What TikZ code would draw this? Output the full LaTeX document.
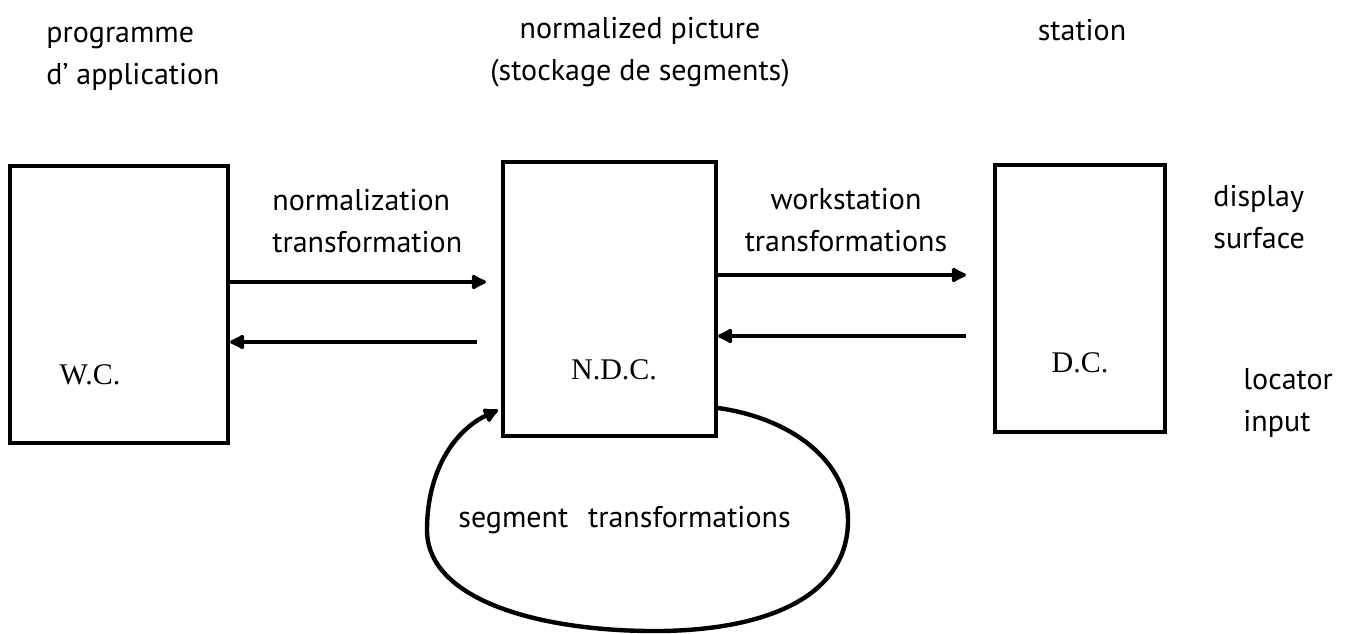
\documentclass[tikz,border=0pt]{standalone}
\usepackage{fontspec}
\setmainfont{PT Sans}
\newfontfamily\boxfont{Liberation Serif}
\usetikzlibrary{arrows.meta,positioning}
\tikzset{
  coord box/.style={draw,line width=2pt,inner sep=0pt},
  lbl/.style={font=\fontsize{15}{21}\selectfont,inner sep=0pt},
  boxlbl/.style={font=\boxfont\fontsize{15}{18}\selectfont,inner sep=0pt},
  arr/.style={line width=2.2pt,-{Latex[length=9pt,width=9pt,round]}}
}

\begin{document}
\begin{tikzpicture}[x=0.5pt,y=-0.5pt]
\useasboundingbox (0,0) rectangle (1352,633);
\node[coord box,minimum width=109pt,minimum height=138.5pt] (wc) at (119,304.5) {};
\node[coord box,minimum width=106.5pt,minimum height=137pt] (ndc) at (609.5,299) {};
\node[coord box,minimum width=85pt,minimum height=133.5pt] (dc) at (1080,298.5) {};
\node[boxlbl] (wclbl) at (90,375) {W.C.};
\node[boxlbl] (ndclbl) at (614,370) {N.D.C.};
\node[boxlbl] (dclbl) at (1080,363) {D.C.};
\node[lbl,align=left,anchor=west] (prog) at (46,59) {programme\\d' application};
\node[lbl,align=center] (npic) at (640,52) {normalized picture\\(stockage de segments)};
\node[lbl] (stat) at (1082,30) {station};
\node[lbl,align=left,anchor=west] (normt) at (272,221) {normalization\\transformation};
\node[lbl,align=center] (wst) at (846,220) {workstation\\transformations};
\node[lbl,align=left,anchor=west] (disp) at (1213,217) {display\\surface};
\node[lbl,align=left,anchor=west] (loc) at (1243,403) {locator\\input};
\node[lbl,anchor=west] (segt) at (458,520) {segment\hspace{10pt}transformations};
\coordinate (a1) at (486,282);
\coordinate (a2) at (477,342);
\coordinate (a3) at (966,275);
\coordinate (a4) at (966,336);
\coordinate (s1) at (718,408);
\coordinate (s2) at (498,410);
\draw[arr] (wc.east |- a1) -- (a1);
\draw[arr] (a2) -- (wc.east |- a2);
\draw[arr] (ndc.east |- a3) -- (a3);
\draw[arr] (a4) -- (ndc.east |- a4);
\draw[arr] (s1) .. controls (790,418) and (848,460) .. (848,520)
  .. controls (848,600) and (760,630) .. (660,631)
  .. controls (540,632) and (427,600) .. (427,530)
  .. controls (427,470) and (455,430) .. (s2);
\end{tikzpicture}
\end{document}
